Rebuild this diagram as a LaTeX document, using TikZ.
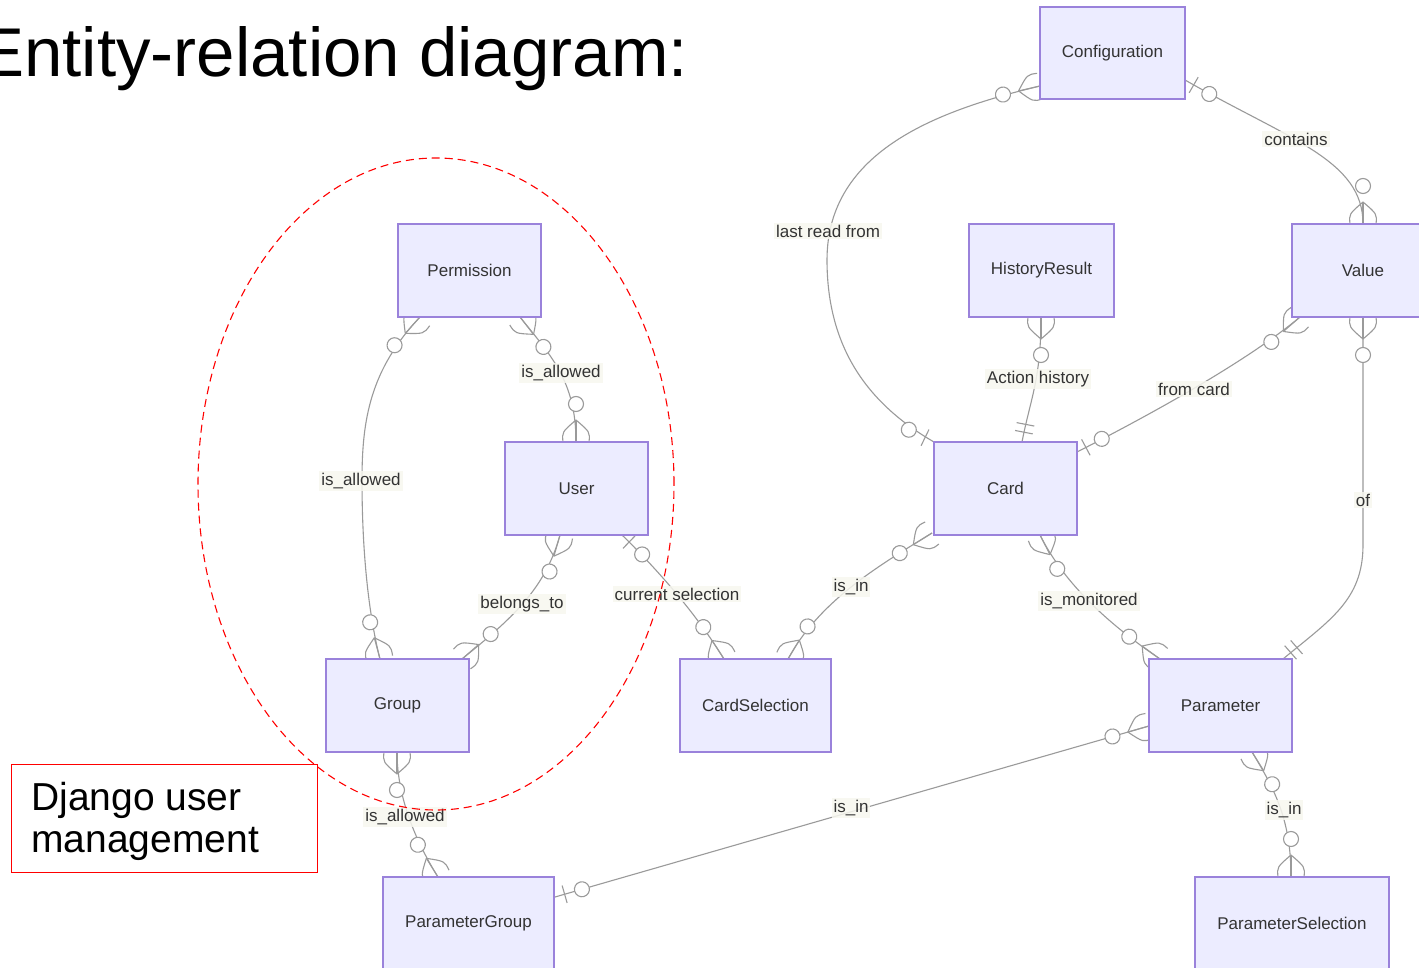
\documentclass[tikz,border=0pt]{standalone}
\usepackage{fontspec}
\setmainfont{Liberation Sans}
\definecolor{entfill}{HTML}{ECECFF}
\definecolor{entdraw}{HTML}{9A82DB}
\definecolor{relcol}{HTML}{9A9A9A}
\definecolor{txtcol}{HTML}{333333}
\definecolor{lblbg}{HTML}{F7F7EF}
\tikzset{
  ent/.style={draw=entdraw, fill=entfill, line width=0.65pt, minimum height=46.5pt,
    inner sep=0pt, text=txtcol, font=\fontsize{8.5}{10}\selectfont},
  rel/.style={draw=relcol, line width=0.55pt},
  lbl/.style={fill=lblbg, fill opacity=0.85, text opacity=1, text=txtcol,
    inner sep=1pt, font=\fontsize{8.5}{10}\selectfont},
  pics/zm/.style={code={
    \draw[rel] (0,0) -- (22,0);
    \draw[rel] (22,0) .. controls (10,14) .. (0,13);
    \draw[rel] (22,0) .. controls (10,-14) .. (0,-13);
    \draw[rel, fill=white] (38,0) circle[radius=7.5];
  }},
  pics/zo/.style={code={
    \draw[rel] (10,-9) -- (10,9);
    \draw[rel, fill=white] (28,0) circle[radius=7.5];
  }},
  pics/oo/.style={code={
    \draw[rel] (10,-9) -- (10,9);
    \draw[rel] (18,-9) -- (18,9);
  }},
}
\begin{document}
\begin{tikzpicture}[x=0.5pt,y=0.5pt]
\useasboundingbox (0,0) rectangle (1419,-968);
\clip (0,0) rectangle (1419,-968);
\fill[white] (0,0) rectangle (1419,-968);

% connector end points
\coordinate (cfgW) at (1040,-86);
\coordinate (cfgE) at (1185,-80);
\coordinate (cardNW) at (934,-442);
\coordinate (valN) at (1363,-224);
\coordinate (histS) at (1041,-317);
\coordinate (cardN) at (1022,-442);
\coordinate (valSW) at (1300,-317);
\coordinate (cardE) at (1077,-452);
\coordinate (valS) at (1363,-317);
\coordinate (ofbend) at (1363,-545);
\coordinate (paramNE) at (1283,-659);
\coordinate (permSW) at (420,-317);
\coordinate (groupN) at (380,-659);
\coordinate (permSE) at (520,-317);
\coordinate (userN) at (576,-442);
\coordinate (userS) at (560,-535);
\coordinate (groupNE) at (462,-659);
\coordinate (userSE) at (622,-535);
\coordinate (cselNW) at (724,-659);
\coordinate (cardSW) at (932,-533);
\coordinate (cselN) at (788,-659);
\coordinate (cardS) at (1040,-535);
\coordinate (paramNW) at (1160,-659);
\coordinate (groupS) at (397,-752);
\coordinate (pgroupN) at (438,-877);
\coordinate (paramW) at (1149,-726);
\coordinate (pgroupE) at (555,-897);
\coordinate (paramS) at (1252,-752);
\coordinate (pselN) at (1291,-877);

% connectors
\draw[rel] (cfgW) .. controls (940,-110) and (827,-150) .. (827,-260)
  .. controls (827,-350) and (870,-405) .. (cardNW);
\draw[rel] (cfgE) .. controls (1290,-140) and (1363,-160) .. (valN);
\draw[rel] (histS) .. controls (1041,-380) and (1030,-400) .. (cardN);
\draw[rel] (valSW) .. controls (1240,-367) and (1130,-425) .. (cardE);
\draw[rel] (valS) -- (ofbend) .. controls (1363,-600) and (1330,-620) .. (paramNE);
\draw[rel] (permSW) .. controls (370,-370) and (362,-420) .. (362,-480)
  .. controls (362,-560) and (370,-620) .. (groupN);
\draw[rel] (permSE) .. controls (550,-355) and (576,-380) .. (userN);
\draw[rel] (userS) .. controls (545,-590) and (510,-620) .. (groupNE);
\draw[rel] (userSE) .. controls (665,-577) and (700,-620) .. (cselNW);
\draw[rel] (cardSW) .. controls (880,-565) and (820,-600) .. (cselN);
\draw[rel] (cardS) .. controls (1065,-585) and (1110,-625) .. (paramNW);
\draw[rel] (groupS) .. controls (397,-800) and (418,-845) .. (pgroupN);
\draw[rel] (paramW) -- (pgroupE);
\draw[rel] (paramS) .. controls (1275,-790) and (1291,-820) .. (pselN);

% markers
\pic[rotate=193] at (cfgW) {zm};
\pic[rotate=154] at (cardNW) {zo};
\pic[rotate=-30] at (cfgE) {zo};
\pic[rotate=90] at (valN) {zm};
\pic[rotate=-90] at (histS) {zm};
\pic[rotate=79] at (cardN) {oo};
\pic[rotate=221] at (valSW) {zm};
\pic[rotate=28] at (cardE) {zo};
\pic[rotate=-90] at (valS) {zm};
\pic[rotate=41] at (paramNE) {oo};
\pic[rotate=228] at (permSW) {zm};
\pic[rotate=105] at (groupN) {zm};
\pic[rotate=-52] at (permSE) {zm};
\pic[rotate=90] at (userN) {zm};
\pic[rotate=254] at (userS) {zm};
\pic[rotate=41] at (groupNE) {zm};
\pic[rotate=-44] at (userSE) {zo};
\pic[rotate=123] at (cselNW) {zm};
\pic[rotate=212] at (cardSW) {zm};
\pic[rotate=59] at (cselN) {zm};
\pic[rotate=-63] at (cardS) {zm};
\pic[rotate=144] at (paramNW) {zm};
\pic[rotate=-90] at (groupS) {zm};
\pic[rotate=122] at (pgroupN) {zm};
\pic[rotate=196] at (paramW) {zm};
\pic[rotate=16] at (pgroupE) {zo};
\pic[rotate=-58] at (paramS) {zm};
\pic[rotate=90] at (pselN) {zm};

% entities
\node[ent, minimum width=72.5pt, minimum height=46pt] (cfg) at (1112.5,-53) {Configuration};
\node[ent, minimum width=71.5pt] (perm) at (469.5,-270.5) {Permission};
\node[ent, minimum width=72.5pt] (hist) at (1041.5,-270.5) {HistoryResult};
\node[ent, minimum width=71pt] (val) at (1363,-270.5) {Value};
\node[ent, minimum width=71.5pt] (user) at (576.5,-488.5) {User};
\node[ent, minimum width=71.5pt] (card) at (1005.5,-488.5) {Card};
\node[ent, minimum width=71.5pt] (group) at (397.5,-705.5) {Group};
\node[ent, minimum width=75.5pt] (csel) at (755.5,-705.5) {CardSelection};
\node[ent, minimum width=71.5pt] (param) at (1220.5,-705.5) {Parameter};
\node[ent, minimum width=85.5pt] (pgroup) at (468.5,-923.5) {ParameterGroup};
\node[ent, minimum width=97pt] (psel) at (1292,-923.5) {ParameterSelection};

% relation labels
\node[lbl] (l1) at (828,-231) {last read from};
\node[lbl] (l2) at (1296,-139) {contains};
\node[lbl] (l3) at (1038,-379) {Action history};
\node[lbl] (l4) at (1194,-389) {from card};
\node[lbl] (l5) at (1363,-500) {of};
\node[lbl] (l6) at (361,-481) {is\_allowed};
\node[lbl] (l7) at (561,-373) {is\_allowed};
\node[lbl] (l8) at (522,-604) {belongs\_to};
\node[lbl] (l9) at (677,-594) {current selection};
\node[lbl] (l10) at (851,-587) {is\_in};
\node[lbl] (l11) at (1089,-601) {is\_monitored};
\node[lbl] (l12) at (405,-817) {is\_allowed};
\node[lbl] (l13) at (851,-808) {is\_in};
\node[lbl] (l14) at (1284,-810) {is\_in};

% title
\node[anchor=base west, inner sep=0pt, font=\fontsize{34.5}{40}\selectfont] (title) at (-22,-77) {Entity-relation diagram:};

% Django box
\node[draw=red, fill=white, line width=0.6pt, anchor=north west, minimum width=153pt,
  minimum height=54pt, inner sep=0pt] (djbox) at (11,-764) {};
\node[anchor=base west, inner sep=0pt, font=\fontsize{19.5}{22}\selectfont] (dj1) at (31,-810) {Django user};
\node[anchor=base west, inner sep=0pt, font=\fontsize{19.5}{22}\selectfont] (dj2) at (31,-852) {management};

% dashed ellipse
\draw[red, line width=0.55pt, dash pattern=on 4pt off 2.5pt] (436,-484) ellipse[x radius=238, y radius=326];
\end{tikzpicture}
\end{document}
